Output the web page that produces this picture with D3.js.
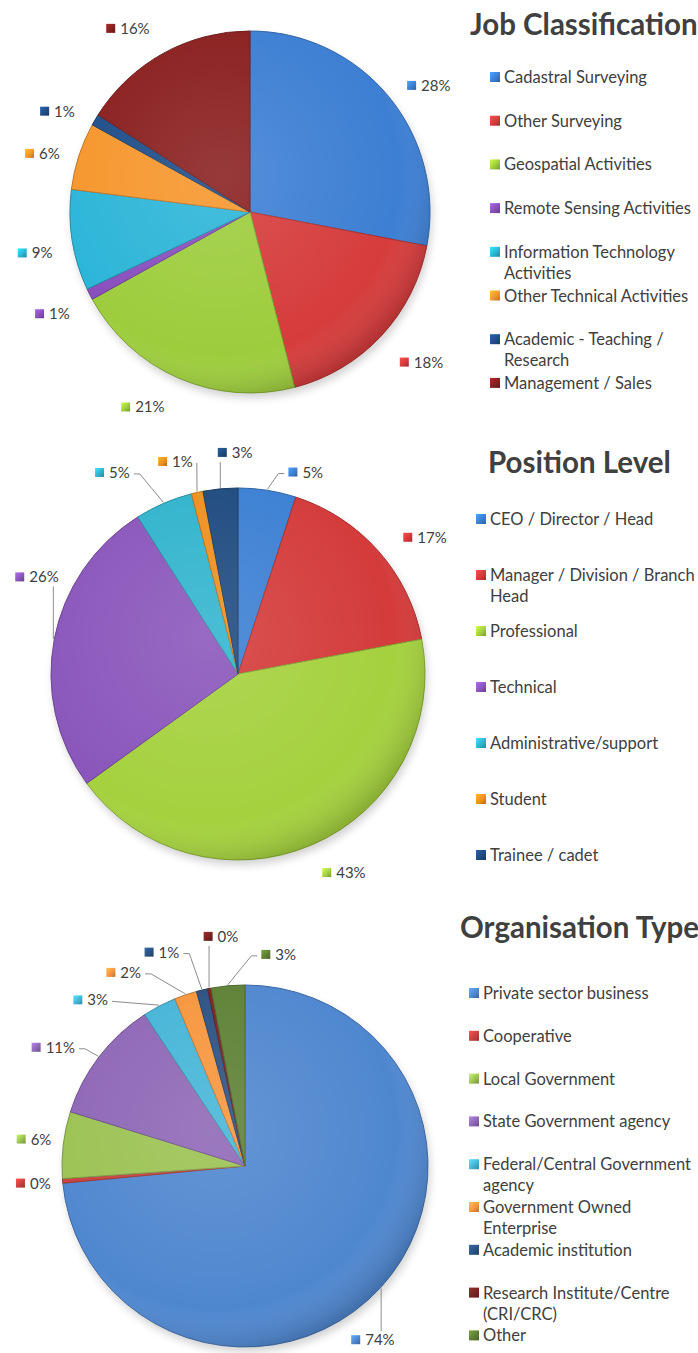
<!DOCTYPE html>
<html>
<head>
<meta charset="utf-8">
<script src="https://cdn.jsdelivr.net/npm/d3@7"></script>
<style>
  html, body { margin: 0; padding: 0; background: #fff; }
  svg { display: block; }
  text { font-family: Lato, "Open Sans", sans-serif; fill: #404040; }
</style>
</head>
<body>
<svg id="chart"></svg>
<script>
// ---- data (percent shares) ----
const jobCategories = ["Cadastral Surveying", "Other Surveying", "Geospatial Activities",
  "Remote Sensing Activities", "Information Technology\nActivities", "Other Technical Activities",
  "Academic - Teaching /\nResearch", "Management / Sales"];
const jobShares = [28, 18, 21, 1, 9, 6, 1, 16];

const positionCategories = ["CEO / Director / Head", "Manager / Division / Branch\nHead",
  "Professional", "Technical", "Administrative/support", "Student", "Trainee / cadet"];
const positionShares = [5, 17, 43, 26, 5, 1, 3];

const orgCategories = ["Private sector business", "Cooperative", "Local Government",
  "State Government agency", "Federal/Central Government\nagency", "Government Owned\nEnterprise",
  "Academic institution", "Research Institute/Centre\n(CRI/CRC)", "Other"];
const orgShares = [74, 0.4, 6, 11, 3, 2, 1, 0.3, 3];

// ---- colours ----
const jobColors = ["#3d7fd3", "#d63c3c", "#9dcd3d", "#8a4fbe", "#2cb5d8", "#f6962c", "#1f4e89", "#8a1f1f"];
const positionColors = ["#3c80d3", "#d43b3b", "#a5d13e", "#8a56bb", "#31b4cd", "#ef901f", "#1f4b80"];
const orgColors = ["#4f87cf", "#c9413f", "#9cc253", "#8e67b6", "#46b5d7", "#f7963e", "#2c5283", "#7a2321", "#5e8135"];

// label nudges [dx, dy, leader?] away from the default outside-end spot
const jobNudge = [[3, 2, 0], [4, 13, 0], [-6, 11, 0], [-2, 11, 0], [0, 10, 0], [0, 4, 0], [-3, 2, 0], [-4, -7, 0]];
const positionNudge = [[18, 2, 1], [10, 0, 0], [2, 10, 0], [24, -58, 1], [-26, -12, 1], [0, -11, 1], [34, -16, 1]];
const orgNudge = [[-44, 39, 1], [8, 1, 0], [8, -3, 0], [-8, 3, 1], [-42, 12, 1], [-38, -3, 1], [-18, -18, 1], [33, -32, 1], [70, -11, 1]];

const W = 698, H = 1353;
const svg = d3.select("#chart").attr("width", W).attr("height", H);
const defs = svg.append("defs");

// shading overlay for the pies
const shade = defs.append("radialGradient").attr("id", "pieShade")
  .attr("cx", "42%").attr("cy", "40%").attr("r", "62%");
shade.append("stop").attr("offset", "0%").attr("stop-color", "#fff").attr("stop-opacity", 0.12);
shade.append("stop").attr("offset", "80%").attr("stop-color", "#fff").attr("stop-opacity", 0);
shade.append("stop").attr("offset", "100%").attr("stop-color", "#000").attr("stop-opacity", 0.16);

const blur = defs.append("filter").attr("id", "shadow").attr("x", "-10%").attr("y", "-10%")
  .attr("width", "120%").attr("height", "125%");
blur.append("feGaussianBlur").attr("stdDeviation", 4);

let gradCount = 0;
function keyFill(color) {
  const id = "key" + (gradCount++);
  const lg = defs.append("linearGradient").attr("id", id)
    .attr("x1", "0").attr("y1", "0").attr("x2", "1").attr("y2", "1");
  lg.append("stop").attr("offset", "0%").attr("stop-color", d3.color(color).brighter(0.7));
  lg.append("stop").attr("offset", "55%").attr("stop-color", color);
  lg.append("stop").attr("offset", "100%").attr("stop-color", d3.color(color).darker(0.8));
  return `url(#${id})`;
}

function drawPie(cfg) {
  const g = svg.append("g");
  const pie = d3.pie().sort(null).value(d => d);
  const arcs = pie(cfg.values);
  const arc = d3.arc().innerRadius(0).outerRadius(cfg.rx);
  const sy = cfg.ry / cfg.rx;

  // soft shadow
  g.append("ellipse")
    .attr("cx", cfg.cx + 2).attr("cy", cfg.cy + 5)
    .attr("rx", cfg.rx).attr("ry", cfg.ry)
    .attr("fill", "#000").attr("opacity", 0.18)
    .attr("filter", "url(#shadow)");

  const pg = g.append("g").attr("transform", `translate(${cfg.cx},${cfg.cy}) scale(1,${sy})`);
  pg.selectAll("path.slice")
    .data(arcs)
    .join("path")
    .attr("class", "slice")
    .attr("d", arc)
    .attr("fill", (d, i) => cfg.colors[i])
    .attr("stroke", (d, i) => d3.color(cfg.colors[i]).darker(0.7))
    .attr("stroke-width", 1)
    .attr("vector-effect", "non-scaling-stroke");

  g.append("ellipse")
    .attr("cx", cfg.cx).attr("cy", cfg.cy)
    .attr("rx", cfg.rx).attr("ry", cfg.ry)
    .attr("fill", "url(#pieShade)")
    .attr("pointer-events", "none");

  // data labels
  const off = 20;
  arcs.forEach((d, i) => {
    const a = (d.startAngle + d.endAngle) / 2;
    const s = Math.sin(a), c = Math.cos(a);
    const ax = cfg.cx + (cfg.rx + off) * s;
    const ay = cfg.cy - (cfg.ry + off) * c;
    const nd = cfg.nudge[i];

    const lab = g.append("g");
    const t = lab.append("text")
      .attr("font-size", 15)
      .attr("x", 14).attr("y", 5)
      .text(Math.round(d.data) + "%");
    const w = 14 + t.node().getComputedTextLength();
    lab.insert("rect", "text")
      .attr("x", 0).attr("y", -5).attr("width", 9).attr("height", 9)
      .attr("fill", keyFill(cfg.colors[i]));

    const left = (s >= 0 ? ax : ax - w) + nd[0];
    const cy = ay + nd[1];
    lab.attr("transform", `translate(${left},${cy})`);

    // leader line when the label was pulled away
    if (nd[2]) {
      const ex = cfg.cx + (cfg.rx + 1) * s;
      const ey = cfg.cy - (cfg.ry + 1) * c;
      const over = Math.abs(ex - (left + w / 2)) < w / 2 + 2;
      let pts;
      if (over && cy + 8 < ey) {
        pts = [[ex, cy + 9], [ex, ey]];
      } else if (over && cy - 8 > ey) {
        pts = [[ex, cy - 9], [ex, ey]];
      } else {
        const px = ex > left + w ? left + w + 4 : left - 4;
        const py = cy + 1;
        pts = [[px, py]];
        if (Math.abs(ex - px) > 8 && Math.abs(py - ey) > 6) {
          pts.push([px + (ex > px ? 6 : -6), py]);
        }
        pts.push([ex, ey]);
      }
      g.append("path")
        .attr("d", d3.line()(pts))
        .attr("fill", "none")
        .attr("stroke", "#8c8c8c")
        .attr("stroke-width", 1);
    }
  });

  // title
  svg.append("text")
    .attr("x", cfg.titleX).attr("y", cfg.titleY)
    .attr("font-size", 29.5).attr("font-weight", 700)
    .attr("fill", "#3f3f3f")
    .text(cfg.title);

  // legend
  const lg = svg.append("g");
  cfg.categories.forEach((name, i) => {
    const y = cfg.legendY + i * cfg.legendStep;
    lg.append("rect")
      .attr("x", cfg.legendX).attr("y", y - 5)
      .attr("width", 10).attr("height", 10)
      .attr("fill", keyFill(cfg.colors[i]));
    const txt = lg.append("text").attr("font-size", 16.5);
    name.split("\n").forEach((line, j) => {
      txt.append("tspan")
        .attr("x", cfg.legendX + 14)
        .attr("y", y + 6 + j * 21)
        .text(line);
    });
  });
}

drawPie({
  title: "Job Classification", categories: jobCategories, values: jobShares,
  colors: jobColors, nudge: jobNudge,
  cx: 250, cy: 212, rx: 180, ry: 181,
  titleX: 470, titleY: 35, legendX: 490, legendY: 77, legendStep: 43.7
});

drawPie({
  title: "Position Level", categories: positionCategories, values: positionShares,
  colors: positionColors, nudge: positionNudge,
  cx: 238, cy: 674, rx: 187, ry: 186,
  titleX: 488, titleY: 473, legendX: 476, legendY: 519, legendStep: 56
});

drawPie({
  title: "Organisation Type", categories: orgCategories, values: orgShares,
  colors: orgColors, nudge: orgNudge,
  cx: 245, cy: 1166, rx: 183, ry: 181,
  titleX: 460, titleY: 938, legendX: 469, legendY: 993, legendStep: 42.8
});
</script>
</body>
</html>
